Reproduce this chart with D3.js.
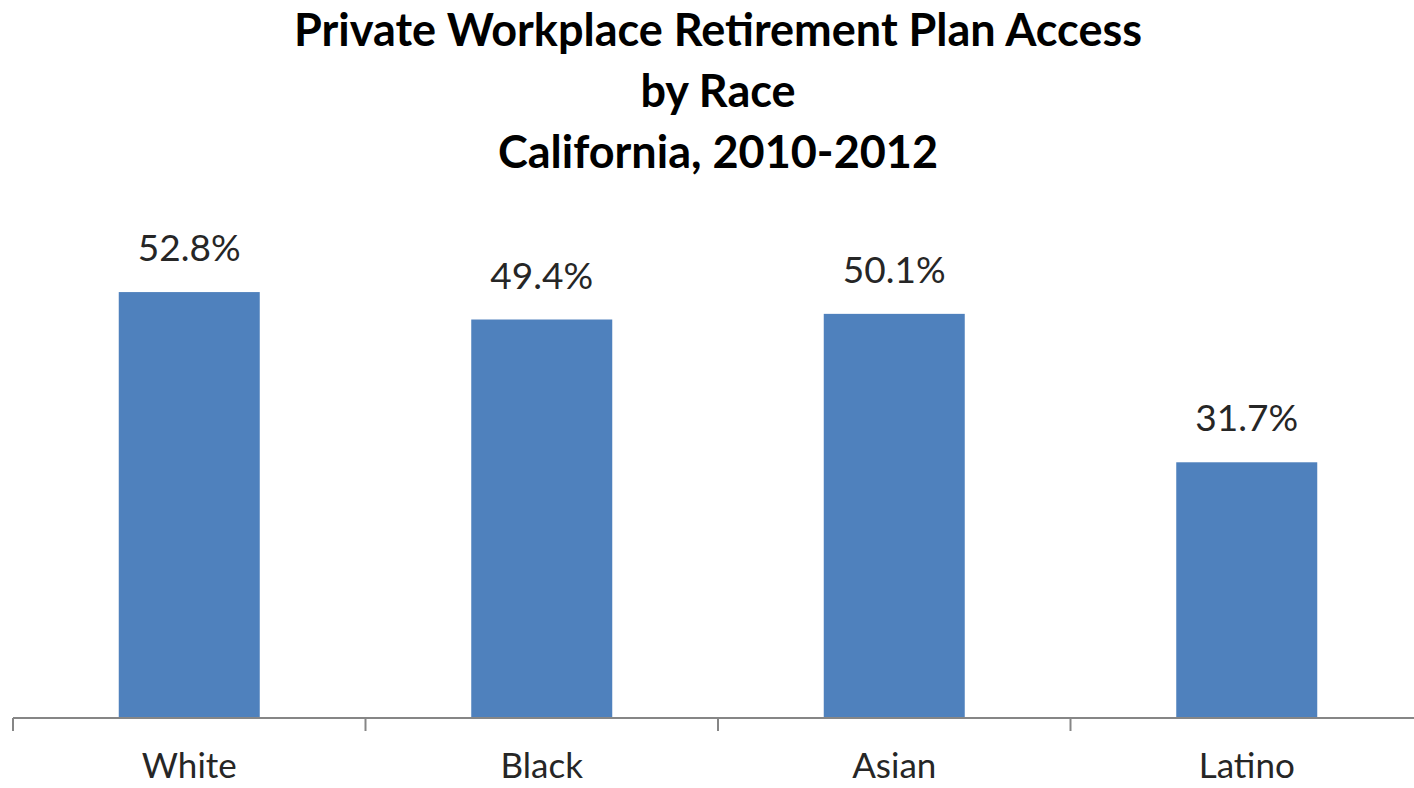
<!DOCTYPE html>
<html>
<head>
<meta charset="utf-8">
<script src="https://cdn.jsdelivr.net/npm/d3@7"></script>
<style>
  body { margin: 0; background: #fff; }
  text { font-family: Lato, "Open Sans", sans-serif; }
</style>
</head>
<body>
<script>
'use strict';

// chart data
const categories = ["White", "Black", "Asian", "Latino"];
const values = [52.8, 49.4, 50.1, 31.7];
const titleLines = ["Private Workplace Retirement Plan Access", "by Race", "California, 2010-2012"];

(function() {
  const width = 1414, height = 788;

  const svg = d3.select('body')
    .append('svg')
    .attr('width', width)
    .attr('height', height);

  // category scale: one band per race, bars take 40% of a band
  const x = d3.scaleBand()
    .domain(categories)
    .range([13, 1423])
    .padding(0);

  const barWidth = x.bandwidth() * 0.4;

  // value scale, baseline at the axis line
  const y = d3.scaleLinear()
    .domain([0, 60])
    .range([718, 234]);

  // title
  svg.append('g')
    .selectAll('text')
    .data(titleLines)
    .enter()
    .append('text')
    .attr('x', 718)
    .attr('y', (d, i) => 46 + i * 61)
    .attr('text-anchor', 'middle')
    .style('font-size', '45px')
    .style('font-weight', 'bold')
    .style('fill', '#000')
    .text(d => d);

  // bars
  svg.selectAll('.bar')
    .data(values)
    .enter()
    .append('rect')
    .attr('class', 'bar')
    .attr('x', (d, i) => x(categories[i]) + (x.bandwidth() - barWidth) / 2)
    .attr('y', d => y(d))
    .attr('width', barWidth)
    .attr('height', d => y(0) - y(d))
    .attr('fill', '#4f81bd');

  // value labels
  svg.selectAll('.val')
    .data(values)
    .enter()
    .append('text')
    .attr('class', 'val')
    .attr('x', (d, i) => x(categories[i]) + x.bandwidth() / 2)
    .attr('y', d => y(d) - 31)
    .attr('text-anchor', 'middle')
    .style('font-size', '37px')
    .style('fill', '#262626')
    .text(d => d.toFixed(1) + '%');

  // x axis with ticks between categories
  const axis = svg.append('g')
    .attr('transform', 'translate(0,' + y(0) + ')');

  axis.append('line')
    .attr('x1', 13)
    .attr('x2', width)
    .attr('stroke', '#868686')
    .attr('stroke-width', 2);

  const edges = categories.map(c => x(c)).concat([x.range()[1]]);
  axis.selectAll('.tick')
    .data(edges)
    .enter()
    .append('line')
    .attr('x1', d => d)
    .attr('x2', d => d)
    .attr('y1', 0)
    .attr('y2', 13)
    .attr('stroke', '#868686')
    .attr('stroke-width', 2);

  axis.selectAll('.cat')
    .data(categories)
    .enter()
    .append('text')
    .attr('x', d => x(d) + x.bandwidth() / 2)
    .attr('y', 60)
    .attr('text-anchor', 'middle')
    .style('font-size', '35px')
    .style('fill', '#262626')
    .text(d => d);
})();
</script>
</body>
</html>
